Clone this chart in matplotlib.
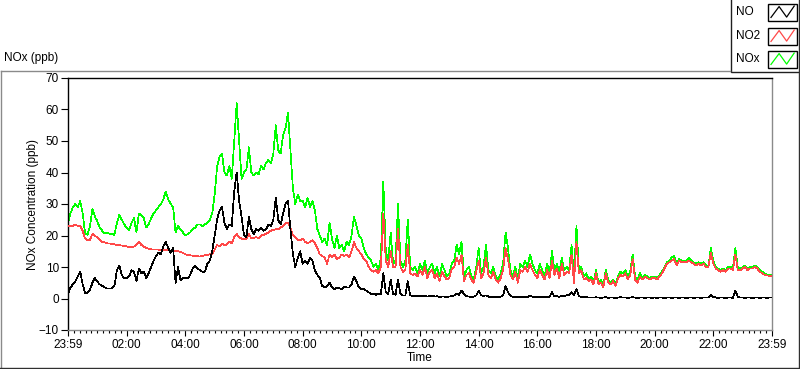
import numpy as np
import matplotlib
matplotlib.use("Agg")
import matplotlib.pyplot as plt
from matplotlib.lines import Line2D
from matplotlib.patches import Rectangle

plt.rcParams['font.family'] = ['Liberation Sans', 'DejaVu Sans']

# ---------------- data (5-minute samples, 23:59 -> 23:59) ----------------
step_minutes = 5

no_ppb = [
    1.5, 3.5, 4.5, 5.5, 7, 8.5, 4.5, 1.8, 1.8, 2.8, 5, 6.5,
    5.3, 4.5, 4, 3.5, 3.2, 3.2, 3.2, 4, 9, 10.5, 7.5, 6.4,
    6.4, 7, 9, 8.5, 5.5, 9.5, 8, 8.5, 6.5, 8, 10, 12,
    13.5, 14.5, 14, 16.5, 18, 16, 14.5, 16, 5, 10, 5.8, 6.5,
    6.5, 6.3, 7.5, 9.5, 10.5, 9.5, 9, 8.5, 8.5, 11, 12, 15,
    20, 25, 28, 29, 24, 22, 23.5, 23, 34, 40, 31, 26,
    20, 19.5, 26, 22, 20.5, 22, 21.5, 22.5, 21.5, 22, 23.5, 23,
    25, 32, 25, 23.5, 27, 30, 31, 22, 14, 10, 13, 15,
    11, 12, 11, 13, 12, 9, 7.5, 6.5, 4, 3.5, 4, 5,
    3.5, 3, 3.5, 3.2, 3, 3.8, 3.5, 3.5, 4.5, 7, 5.5, 3.5,
    3, 3, 2.5, 2, 1.5, 1.5, 1.2, 1.5, 1.5, 8, 2, 1.5,
    6, 1.5, 1.2, 6, 1.5, 1, 1, 5.5, 1, 0.8, 0.8, 0.7,
    0.8, 0.7, 0.8, 0.6, 0.8, 1, 0.6, 0.7, 0.5, 0.6, 0.6, 0.5,
    0.6, 0.8, 1, 1.5, 1.2, 2.5, 1.5, 0.8, 0.6, 0.5, 0.6, 1,
    2.5, 1, 0.8, 1, 0.6, 0.5, 0.6, 0.5, 0.5, 0.6, 1, 4,
    2, 0.8, 0.5, 0.6, 0.5, 0.6, 0.5, 0.6, 0.5, 0.8, 0.6, 0.5,
    0.5, 0.5, 0.4, 0.4, 0.5, 0.5, 2, 0.6, 0.8, 0.5, 1, 0.8,
    1, 1.2, 2, 1, 3, 0.8, 0.5, 0.4, 0.4, 0.3, 0.3, 0.3,
    0.4, 0.3, 0.2, 0.3, 0.4, 0.2, 0.3, 0.3, 0.2, 0.3, 0.4, 0.3,
    0.3, 0.2, 0.3, 0.4, 0.3, 0.2, 0.3, 0.3, 0.2, 0.3, 0.3, 0.2,
    0.3, 0.2, 0.3, 0.3, 0.2, 0.3, 0.3, 0.2, 0.3, 0.3, 0.2, 0.3,
    0.3, 0.2, 0.3, 0.3, 0.2, 0.3, 0.3, 0.2, 0.3, 0.3, 0.3, 1.2,
    0.5, 0.3, 0.2, 0.3, 0.3, 0.2, 0.3, 0.3, 0.2, 2.5, 0.5, 0.3,
    0.3, 0.2, 0.3, 0.3, 0.2, 0.3, 0.3, 0.2, 0.3, 0.3, 0.2, 0.3, 0.3,
]

no2_ppb = [
    23, 23, 23, 23.5, 23, 23, 21.5, 19, 18.6, 18.6, 20.5, 19.8,
    19.5, 18.8, 18, 17.8, 17.5, 17.5, 17.3, 17.2, 17, 17, 16.8, 16.7,
    16.5, 16.4, 16.3, 16.5, 17, 18, 17, 16.5, 16, 15.8, 15.6, 15.6,
    15.6, 15.5, 15.4, 15.4, 15.3, 15.4, 15.2, 15.2, 15.1, 15, 14.8, 14.5,
    14, 13.8, 13.7, 13.6, 13.5, 13.4, 13.3, 13.5, 13.7, 13.8, 14, 14.2,
    15.5, 17, 16.5, 17.5, 16.8, 17.2, 18, 17.5, 19.5, 20.5, 19.5, 19,
    18.8, 19, 20.5, 19, 19.2, 19.5, 19.2, 20, 20.2, 20.5, 21, 21.5,
    21.8, 22, 22, 22.5, 23, 24, 24, 22.5, 20, 19.5, 18.5, 18.5,
    19, 18, 17.5, 18, 18.5, 17.5, 16, 14, 13.5, 13, 11, 14,
    13, 14, 12.5, 13, 14, 13.5, 14, 13, 15, 18, 16, 15,
    14, 12.5, 12, 10, 9, 8.5, 9, 8, 10, 27, 12, 10,
    15, 10, 10, 22, 10, 8.5, 9, 17, 8, 7.5, 8, 7,
    9, 7.5, 10, 6.5, 8.5, 9, 6.5, 8, 5.5, 8.5, 7, 6,
    6.5, 9.5, 10, 13, 11, 14, 5.5, 7.5, 8, 6, 5, 8.5,
    12, 6.5, 8, 13, 7.5, 6.5, 8.5, 6, 5, 6.5, 9, 16,
    12.5, 7.5, 6, 8.5, 5, 9, 8.5, 10, 8.5, 11, 9, 7.5,
    6.5, 9, 7.5, 6, 9, 6.5, 12, 7.5, 9.5, 6.5, 11, 7.5,
    8.5, 8, 14, 5, 18, 8, 9, 6, 6.5, 5.5, 6, 4.5,
    8, 4.5, 5, 3.5, 8, 5, 4.5, 5.5, 4, 6.5, 7.5, 7,
    8, 6, 7.5, 12.5, 6, 5, 7, 6, 7, 6.5, 6, 6.5,
    6.5, 6, 7, 8, 9.5, 11, 11.5, 12, 12.5, 10.5, 12, 11.5,
    11.5, 11.5, 12, 11.5, 11, 10.5, 11, 10.5, 11, 10, 10, 14.5,
    11, 9.5, 9, 8.5, 9, 8.5, 9.5, 9.5, 9, 14, 9, 9,
    9.5, 10, 9, 9.5, 9.5, 10, 9.5, 8.5, 8, 7.5, 7.3, 7.2, 7,
]

nox_ppb = [
    24, 27, 29, 30, 29, 31, 27, 20.7, 20.2, 23, 28.5, 26,
    24.5, 22.5, 21.5, 20.7, 21, 20.5, 20.5, 20.2, 24, 26.5, 25, 23.5,
    22.5, 21.8, 24, 25.5, 21, 27, 26.5, 25.5, 22.5, 23.5, 25.5, 27,
    28, 29, 30, 31.5, 34, 31.5, 30, 29, 21, 23, 21.8, 21,
    20, 20.5, 21, 22, 22.5, 23.5, 23.5, 23, 23.5, 24, 25, 27,
    33, 42, 45, 46, 40, 39, 42, 38, 50, 62, 50, 38,
    40, 41, 48, 40, 39, 40, 39.5, 42, 41, 43, 44, 43,
    46, 55, 47, 46, 52, 54, 59, 47, 35, 30, 33, 31,
    31, 29, 32, 29, 31, 28, 22, 20, 18, 19, 17, 24,
    19, 16, 20, 16, 17, 15, 18, 17, 20, 26, 23, 20,
    19, 16, 14, 13, 12, 10, 11, 9, 13, 37, 15, 12,
    21, 11, 12, 30, 12, 10, 12, 25, 10, 9, 10, 8,
    11, 9, 12, 8, 10, 11, 8, 10, 7, 11, 9, 7,
    8, 11, 12, 17, 14, 18, 7, 9, 10, 7, 6, 10,
    16, 8, 10, 17, 9, 8, 10, 7, 6, 8, 11, 21,
    16, 9, 7, 10, 6, 11, 10, 12, 10, 14, 11, 9,
    8, 11, 9, 7, 11, 8, 15, 9, 11, 8, 13, 9,
    10, 9, 17, 7, 23, 9, 10, 7, 8, 6, 7, 5,
    9, 5, 6, 4, 9, 6, 5, 6, 4.5, 7, 8.5, 8,
    9, 7, 8.5, 14, 7, 6, 8, 6.5, 7.5, 7, 6.5, 7,
    7, 6.5, 7.5, 8.5, 10, 11.5, 12, 13, 13.5, 11, 12.5, 12,
    12, 12, 13, 12, 11.5, 11, 11.5, 11, 11.5, 10.5, 10.5, 16,
    12, 10, 9.5, 9, 9.5, 9, 10, 10, 9.5, 16, 10, 9.5,
    10, 10.5, 9.5, 10, 10, 10.5, 10, 9, 8.5, 8, 7.5, 7.5, 7.3,
]

assert len(no_ppb) == len(no2_ppb) == len(nox_ppb) == 289

time_hours = np.arange(len(no_ppb)) * step_minutes / 60.0

x_tick_hours = [0, 2, 4, 6, 8, 10, 12, 14, 16, 18, 20, 22, 24]
x_tick_labels = ['23:59', '02:00', '04:00', '06:00', '08:00', '10:00', '12:00',
                 '14:00', '16:00', '18:00', '20:00', '22:00', '23:59']
y_ticks = [-10, 0, 10, 20, 30, 40, 50, 60, 70]

series_names = ['NO', 'NO2', 'NOx']
series_colors = ['#000000', '#ff4848', '#00ff00']

# ---------------- figure ----------------
W, H = 800, 369
fig = plt.figure(figsize=(W / 100, H / 100), dpi=100, facecolor='white')

ax = fig.add_axes([68 / W, 39 / H, 704 / W, 252 / H])
ax.set_facecolor('white')

# draw NOx first, then NO2, then NO on top (crisp 1-px lines)
for vals, col, z in ((nox_ppb, series_colors[2], 2), (no2_ppb, series_colors[1], 3), (no_ppb, series_colors[0], 4)):
    ax.plot(time_hours, vals, color=col, lw=0.5, zorder=z, antialiased=False)

ax.set_xlim(0, 24)
ax.set_ylim(-10, 70)
ax.set_xticks(x_tick_hours)
ax.set_xticklabels(x_tick_labels)
ax.set_xticks(np.arange(0, 24.001, 0.2), minor=True)
ax.set_yticks(y_ticks)

for side in ('top', 'left'):
    ax.spines[side].set_color('#000000')
for side in ('right', 'bottom'):
    ax.spines[side].set_color('#8a8a8a')
for s in ax.spines.values():
    s.set_linewidth(1.0)

ax.tick_params(axis='x', which='major', direction='out', length=4, width=0.8,
               pad=2.5, labelsize=8.5, colors='#000000')
ax.tick_params(axis='x', which='minor', direction='out', length=2, width=0.8, colors='#000000')
ax.tick_params(axis='y', which='major', direction='out', length=5, width=0.8,
               pad=1.5, labelsize=8.5, colors='#000000')
ax.tick_params(axis='y', which='minor', left=False)

ax.set_xlabel('Time', fontsize=8.5, labelpad=1)
ax.set_ylabel('NOx Concentration (ppb)', fontsize=8.5, labelpad=0)

# ---------------- overlay: frame, caption and legend ----------------
ov = fig.add_axes([0, 0, 1, 1])
ov.set_xlim(0, W)
ov.set_ylim(H, 0)
ov.set_axis_off()

ov.add_line(Line2D([0.5, 730], [70.5, 70.5], color='#8a8a8a', lw=1.0))
ov.add_line(Line2D([0.5, 0.5], [70.5, 368], color='#8a8a8a', lw=1.0))
ov.add_line(Line2D([0, 800], [367.8, 367.8], color='#303030', lw=1.0))
ov.add_line(Line2D([799.2, 799.2], [0, 368], color='#303030', lw=1.0))

ov.text(4, 58, 'NOx (ppb)', fontsize=8.5, ha='left', va='center', color='#000000')

ov.add_patch(Rectangle((730.5, -2), 70, 73.5, facecolor='white', edgecolor='#202020', lw=1.0))
row_centers = [12, 36, 59]
zig_x = np.array([0.12, 0.4, 0.66, 0.92])
zig_y = np.array([0.82, 0.18, 0.8, 0.15])
for name, col, yc in zip(series_names, series_colors, row_centers):
    ov.text(736, yc, name, fontsize=8.5, ha='left', va='center', color='#000000')
    bx, by, bw, bh = 767.5, yc - 8.5, 29, 17
    ov.add_patch(Rectangle((bx, by), bw, bh, facecolor='white', edgecolor='#000000', lw=1.0))
    ov.add_line(Line2D(bx + zig_x * bw, by + zig_y * bh, color=col, lw=0.9))

fig.savefig('out.png', dpi=100, facecolor='white')
